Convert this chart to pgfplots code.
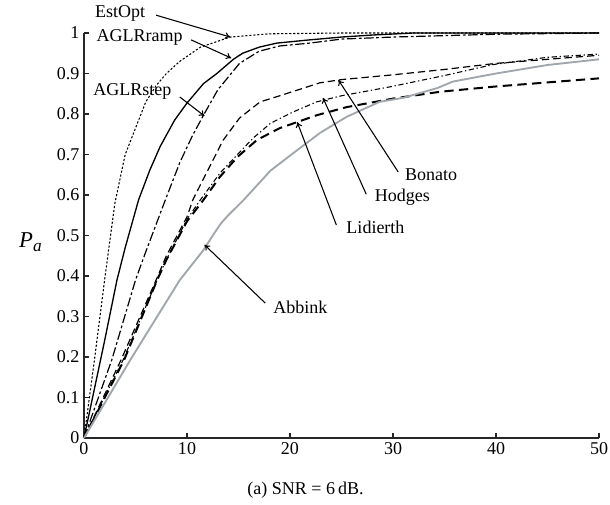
\documentclass[border=0pt]{standalone}
\usepackage{pgfplots}
\pgfplotsset{compat=1.18}
\usepackage{fontspec}
\setmainfont{Liberation Serif}
\usetikzlibrary{arrows.meta}

\definecolor{abbgrey}{RGB}{160,166,172}

\begin{document}
\begin{tikzpicture}[x=1pt,y=1pt]
\begin{axis}[
  name=main,
  width=386.25pt, height=303.75pt,
  scale only axis,
  xmin=0, xmax=50, ymin=0, ymax=1,
  axis lines=left,
  axis line style={-, line width=0.9pt, black!85},
  tick align=inside,
  major tick length=4pt,
  tick style={line width=0.9pt, black!85},
  xtick={0,10,20,30,40,50},
  ytick={0,0.1,0.2,0.3,0.4,0.5,0.6,0.7,0.8,0.9,1},
  yticklabels={0,0.1,0.2,0.3,0.4,0.5,0.6,0.7,0.8,0.9,1},
  /pgf/number format/assume math mode=true,
  ticklabel style={font=\fontsize{13.5}{15}\selectfont},
  clip=false,
  every axis plot/.append style={line join=round},
]
% EstOpt
\addplot[black, line width=0.8pt, dash pattern=on 1.6pt off 1.4pt] coordinates {
 (0,0) (1,0.19) (2,0.39) (3,0.58) (4,0.70) (5,0.765) (6,0.83) (7,0.87) (8,0.90)
 (9.3,0.93) (11.3,0.965) (14.2,0.99) (18,0.998) (25,1) (50,1)};
% AGLRramp
\addplot[black, line width=1pt] coordinates {
 (0,0) (1,0.12) (2,0.24) (3.2,0.39) (4,0.47) (5.3,0.588) (6.4,0.662) (7.4,0.72)
 (8.8,0.785) (10,0.827) (11.6,0.875) (12.9,0.90) (14.5,0.935) (15.4,0.95)
 (17,0.965) (18.7,0.975) (21.9,0.983) (25,0.99) (28,0.995) (32,1) (50,1)};
% AGLRstep
\addplot[black, line width=0.9pt, dash pattern=on 7pt off 2pt on 2pt off 2pt] coordinates {
 (0,0) (2.7,0.193) (5,0.39) (6,0.46) (7.9,0.588) (9.3,0.68) (10.5,0.745)
 (11.6,0.797) (13,0.86) (15.1,0.925) (17,0.955) (19,0.968) (21.9,0.975)
 (25,0.985) (30,0.99) (40,0.997) (50,1)};
% Bonato
\addplot[black, line width=0.9pt, dash pattern=on 5.5pt off 3pt] coordinates {
 (0,0) (3.6,0.193) (7,0.39) (8,0.45) (10,0.546) (10.6,0.59) (12.2,0.67)
 (13.5,0.735) (15.1,0.79) (17.1,0.83) (19,0.845) (22.9,0.877) (25,0.885)
 (29.7,0.896) (35,0.91) (40,0.925) (45,0.935) (50,0.945)};
% Hodges
\addplot[black, line width=0.8pt, dash pattern=on 4pt off 2pt on 1pt off 2pt] coordinates {
 (0,0) (3.8,0.193) (7.1,0.39) (8,0.44) (10,0.54) (11.3,0.588) (13.2,0.654)
 (14.9,0.70) (16.4,0.74) (18.1,0.777) (20.3,0.805) (22.6,0.83) (25,0.845)
 (29.7,0.867) (35,0.895) (39.7,0.922) (45,0.94) (50,0.948)};
% Lidierth
\addplot[black, line width=1.5pt, dash pattern=on 7pt off 4pt] coordinates {
 (0,0) (3.9,0.193) (7.1,0.39) (8,0.44) (10,0.535) (11.6,0.588) (13.2,0.645)
 (14.9,0.694) (16.8,0.736) (19,0.765) (22.6,0.797) (25.5,0.817) (30,0.838)
 (34.6,0.855) (40,0.868) (45,0.878) (50,0.888)};
% Abbink
\addplot[abbgrey, line width=1.4pt] coordinates {
 (0,0) (4.5,0.193) (9.3,0.39) (11.6,0.464) (12.5,0.50) (13.3,0.53) (14,0.55)
 (15.4,0.585) (18.1,0.66) (20.3,0.703) (22.9,0.753) (24,0.77) (25.5,0.793)
 (28.7,0.83) (31,0.84) (34.3,0.864) (35.8,0.88) (40,0.9) (45,0.921) (50,0.935)};

% curve labels and pointers
\begin{scope}[font=\fontsize{13.5}{15}\selectfont]
\node at (axis cs:3.5,1.049) {EstOpt};
\node at (axis cs:5.4,0.988) {AGLRramp};
\node at (axis cs:4.7,0.855) {AGLRstep};
\node at (axis cs:33.7,0.649) {Bonato};
\node at (axis cs:30.9,0.595) {Hodges};
\node at (axis cs:28.3,0.521) {Lidierth};
\node at (axis cs:21.0,0.323) {Abbink};
\end{scope}
\begin{scope}[line width=0.8pt, -{To[length=4pt,width=5pt]}]
\draw (axis cs:7.0,1.044) -- (axis cs:14.2,0.990);
\draw (axis cs:10.4,0.983) -- (axis cs:14.3,0.938);
\draw (axis cs:9.3,0.842) -- (axis cs:11.7,0.795);
\draw (axis cs:30.5,0.657) -- (axis cs:24.7,0.884);
\draw (axis cs:27.4,0.602) -- (axis cs:23.2,0.840);
\draw (axis cs:24.5,0.526) -- (axis cs:20.7,0.780);
\draw (axis cs:17.6,0.333) -- (axis cs:11.7,0.477);
\end{scope}
\node[font=\fontsize{17}{19}\selectfont] at (axis cs:-5.2,0.484)
  {\textit{P}\raisebox{-0.35ex}{\fontsize{13}{15}\selectfont\textit{a}}};
\node[font=\fontsize{13.5}{15}\selectfont] at (axis cs:21.5,-0.128) {(a) SNR = 6\,dB.};
\end{axis}
\pgfresetboundingbox
\path[use as bounding box] (main.south west) ++(-63pt,-49.5pt) rectangle ++(457.5pt,378pt);
\end{tikzpicture}
\end{document}
